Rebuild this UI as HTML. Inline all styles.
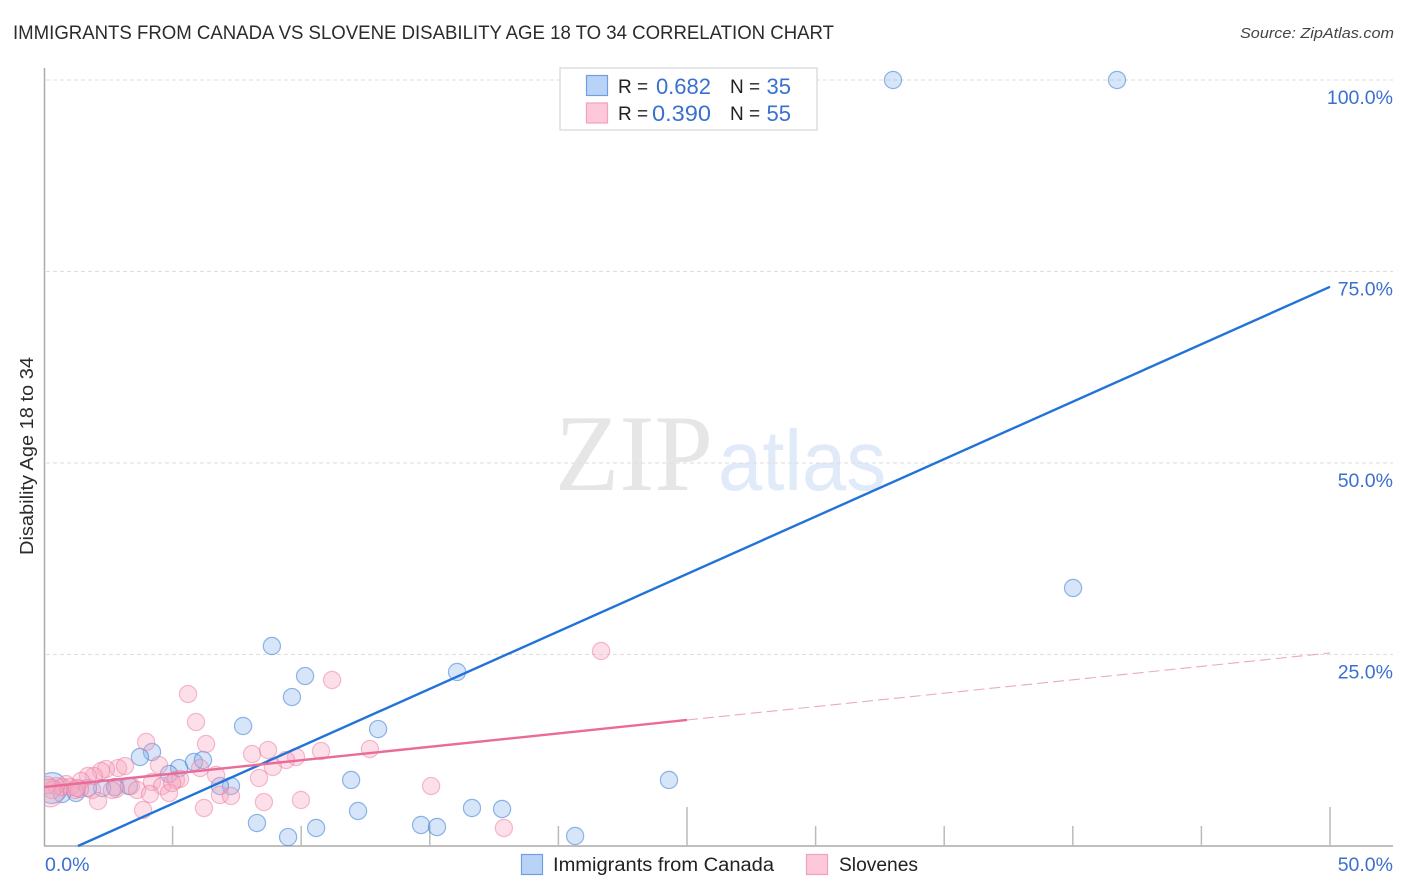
<!DOCTYPE html>
<html lang="en">
<head>
<meta charset="utf-8">
<title>Immigrants from Canada vs Slovene Disability Age 18 to 34 Correlation Chart</title>
<style>
html,body{margin:0;padding:0;background:#fff;width:1406px;height:892px;overflow:hidden}
svg{display:block;font-family:"Liberation Sans",Arial,sans-serif}
</style>
</head>
<body>
<svg id="chart" width="1406" height="892" viewBox="0 0 1406 892">
  <defs>
    <clipPath id="plot-clip"><rect x="45" y="60" width="1348" height="786"/></clipPath>
  </defs>
  <text x="13" y="39" font-size="19" fill="#2b2b2b" textLength="821" lengthAdjust="spacingAndGlyphs">IMMIGRANTS FROM CANADA VS SLOVENE DISABILITY AGE 18 TO 34 CORRELATION CHART</text>
  <text x="1394" y="38" font-size="15" font-style="italic" fill="#444" text-anchor="end" textLength="154" lengthAdjust="spacingAndGlyphs">Source: ZipAtlas.com</text>

  <g>
    <text x="555" y="490" font-family="'Liberation Serif',serif" font-size="109" fill="#e6e6e6" textLength="158" lengthAdjust="spacingAndGlyphs">ZIP</text>
    <text x="718" y="490" font-size="85" fill="#e0eaf9" textLength="168" lengthAdjust="spacingAndGlyphs">atlas</text>
  </g>

  <g id="grid"></g>
  <g id="axes"></g>
  <g id="blue-points" clip-path="url(#plot-clip)"></g>
  <g id="pink-points" clip-path="url(#plot-clip)"></g>
  <g id="trends"></g>
  <g id="tick-labels"></g>

  <text transform="translate(33,456) rotate(-90)" font-size="18.5" fill="#2b2b2b" text-anchor="middle" textLength="198" lengthAdjust="spacingAndGlyphs">Disability Age 18 to 34</text>

  <g>
    <rect x="560" y="68" width="257" height="62" fill="#fff" stroke="#dddddd" stroke-width="1.5"/>
    <rect x="586.5" y="75.5" width="21" height="20" fill="#b9d3f6" stroke="#6f9fe0" stroke-width="1.2"/>
    <rect x="586.5" y="103" width="21" height="20" fill="#fcc8da" stroke="#f2a0bb" stroke-width="1.2"/>
    <text x="618" y="93" font-size="19" fill="#222">R =</text>
    <text x="711" y="94" font-size="22" fill="#3a70cf" text-anchor="end">0.682</text>
    <text x="730" y="93" font-size="19" fill="#222">N =</text>
    <text x="791" y="94" font-size="22" fill="#3a70cf" text-anchor="end">35</text>
    <text x="618" y="120" font-size="19" fill="#222">R =</text>
    <text x="711" y="121" font-size="22" fill="#3a70cf" text-anchor="end" textLength="59" lengthAdjust="spacingAndGlyphs">0.390</text>
    <text x="730" y="120" font-size="19" fill="#222">N =</text>
    <text x="791" y="121" font-size="22" fill="#3a70cf" text-anchor="end">55</text>
  </g>

  <g>
    <rect x="521.5" y="854.5" width="21" height="20" fill="#b9d3f6" stroke="#6f9fe0" stroke-width="1.2"/>
    <text x="553" y="871" font-size="19" fill="#222" textLength="221" lengthAdjust="spacingAndGlyphs">Immigrants from Canada</text>
    <rect x="806.5" y="854.5" width="21" height="20" fill="#fcc8da" stroke="#f2a0bb" stroke-width="1.2"/>
    <text x="839" y="871" font-size="19" fill="#222" textLength="79" lengthAdjust="spacingAndGlyphs">Slovenes</text>
  </g>
</svg>

<script>
var xTickValues = [5, 10, 15, 20, 25, 30, 35, 40, 45, 50];
var xMajorTicks = [25, 50];
var yGridValues = [25, 50, 75, 100];
var xLabelValues = ["0.0%", "50.0%"];
var yLabelValues = ["25.0%", "50.0%", "75.0%", "100.0%"];

var blueX = [33.01,41.72,40.01,8.86,10.15,9.64,7.74,12.99,16.06,4.20,3.73,24.30,11.94,5.83,5.25,6.18,4.86,7.27,6.84,3.30,2.76,2.26,1.71,1.24,0.70,0.31,12.21,16.64,17.81,8.28,10.58,9.49,14.66,15.28,20.65];
var blueY = [100,100,33.68,26.11,22.19,19.45,15.67,15.27,22.72,12.27,11.62,8.62,8.62,10.97,10.18,11.23,9.40,7.83,7.83,7.83,7.70,7.57,7.57,6.92,6.79,7.57,4.57,4.96,4.83,3.00,2.35,1.17,2.74,2.48,1.31];
var blueWeight = [1,1,1,1,1,1,1,1,1,1,1,1,1,1,1,1,1,1,1,1,1,1,1,1,1,3.2,1,1,1,1,1,1,1,1,1];

var pinkX = [21.66,11.20,5.60,5.91,6.30,3.97,8.09,8.71,9.80,9.41,10.77,12.67,8.90,8.36,4.47,6.07,6.69,2.88,3.15,2.41,2.22,1.94,1.71,1.44,0.86,3.38,4.20,4.59,5.13,5.29,4.86,3.62,4.12,2.80,2.64,1.87,1.40,1.01,0.70,0.47,0.31,0.12,0.23,2.10,3.85,6.22,6.84,7.27,8.55,9.99,15.05,17.88,1.21,1.28,4.98];
var pinkY = [25.46,21.67,19.84,16.19,13.32,13.58,12.01,12.53,11.62,11.23,12.40,12.66,10.31,8.88,10.57,10.18,9.27,10.18,10.44,10.05,9.79,9.14,9.14,8.49,8.09,7.83,8.36,7.83,8.62,8.75,6.92,7.31,6.79,7.44,7.31,7.31,7.44,7.70,7.70,7.83,7.31,7.96,6.92,5.87,4.70,4.96,6.66,6.53,5.74,6.01,7.83,2.35,7.31,7.57,8.22];
var pinkWeight = [1,1,1,1,1,1,1,1,1,1,1,1,1,1,1,1,1,1,1,1,1,1,1,1,1,1,1,1,1,1,1,1,1,1,1,1,1,1,1,1,1,1,2.6,1,1,1,1,1,1,1,1,1,1,1,1];

var blueTrendX = [1.32, 50];
var blueTrendY = [0, 73];
var pinkSolidX = [0, 25];
var pinkSolidY = [7.7, 16.45];
var pinkDashX = [25, 50];
var pinkDashY = [16.45, 25.2];

var NS = "http://www.w3.org/2000/svg";
function sx(v) { return 44 + v * 25.72; }
function sy(v) { return 846 - v * 7.66; }
function rOf(w) { return 8.6 * Math.sqrt(w); }
function mk(tag, attrs, parent) {
  var el = document.createElementNS(NS, tag);
  for (var k in attrs) { el.setAttribute(k, attrs[k]); }
  parent.appendChild(el);
  return el;
}

var grid = document.getElementById("grid");
yGridValues.forEach(function (v) {
  var l = mk("line", {x1: 46, x2: 1393, y1: sy(v), y2: sy(v), stroke: "#dedede", "stroke-width": 1, "stroke-dasharray": "4 3"}, grid);
  
  
});

var axes = document.getElementById("axes");
var yAxis = mk("line", {x1: 44.5, x2: 44.5, y1: 68, y2: 846, stroke: "#aaaaaa", "stroke-width": 1.5}, axes);


var xAxis = mk("line", {x1: 44, x2: 1393, y1: 846, y2: 846, stroke: "#aaaaaa", "stroke-width": 1.5}, axes);


xTickValues.forEach(function (v) {
  var h = xMajorTicks.indexOf(v) >= 0 ? 39 : 20;
  var t = mk("line", {x1: sx(v), x2: sx(v), y1: 846 - h, y2: 846, stroke: "#bbbbbb", "stroke-width": 1.5}, axes);
  
  
});

function drawPoints(groupId, xs, ys, ws, fill, stroke, label) {
  var g = document.getElementById(groupId);
  xs.forEach(function (x, i) {
    var c = mk("circle", {cx: sx(x), cy: sy(ys[i]), r: rOf(ws[i]), fill: fill, stroke: stroke, "stroke-width": 1.2}, g);
    
    
  });
}
drawPoints("blue-points", blueX, blueY, blueWeight, "rgba(130,175,235,0.33)", "rgba(60,125,215,0.55)", "canada-point");
drawPoints("pink-points", pinkX, pinkY, pinkWeight, "rgba(248,165,190,0.36)", "rgba(235,120,160,0.48)", "slovene-point");

var trends = document.getElementById("trends");
var tb = mk("line", {x1: sx(blueTrendX[0]), y1: sy(blueTrendY[0]), x2: sx(blueTrendX[1]), y2: sy(blueTrendY[1]), stroke: "#2273d8", "stroke-width": 2.4}, trends);


var tp = mk("line", {x1: sx(pinkSolidX[0]), y1: sy(pinkSolidY[0]), x2: sx(pinkSolidX[1]), y2: sy(pinkSolidY[1]), stroke: "#ea6a98", "stroke-width": 2.4}, trends);


var td = mk("line", {x1: sx(pinkDashX[0]), y1: sy(pinkDashY[0]), x2: sx(pinkDashX[1]), y2: sy(pinkDashY[1]), stroke: "#eba9c0", "stroke-width": 1.1, "stroke-dasharray": "11 5"}, trends);



var labels = document.getElementById("tick-labels");
yLabelValues.forEach(function (s, i) {
  var t = mk("text", {x: 1393, y: sy(yGridValues[i]) + 24, "font-size": 19.5, fill: "#3a70cf", "text-anchor": "end"}, labels);
  t.textContent = s;
  
  
});
var x0 = mk("text", {x: 45, y: 871, "font-size": 19.5, fill: "#3a70cf"}, labels);
x0.textContent = xLabelValues[0];


var x1 = mk("text", {x: 1393, y: 871, "font-size": 19.5, fill: "#3a70cf", "text-anchor": "end"}, labels);
x1.textContent = xLabelValues[1];


</script>
</body>
</html>
